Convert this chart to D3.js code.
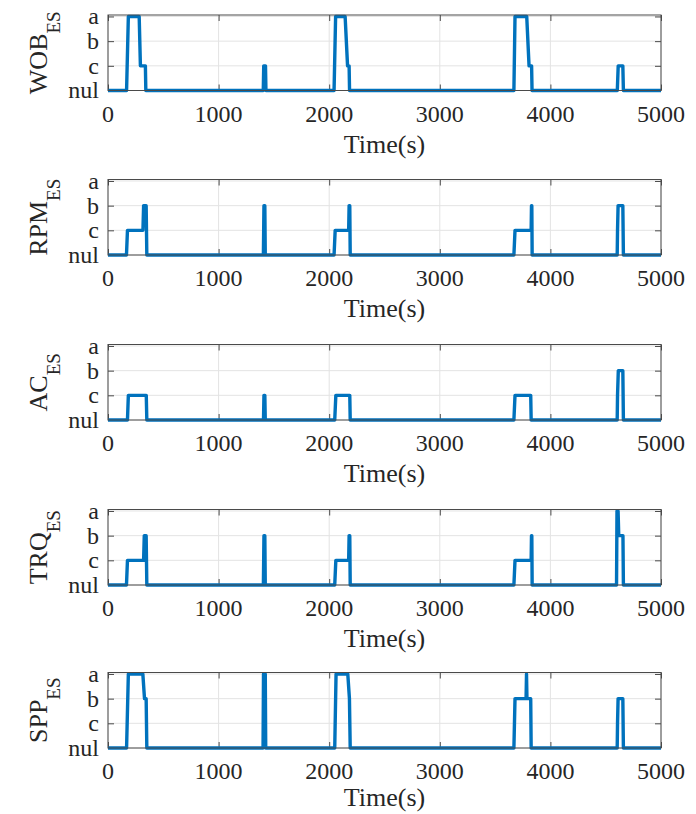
<!DOCTYPE html>
<html><head><meta charset="utf-8">
<script src="https://cdn.jsdelivr.net/npm/d3@7"></script>
<style>body{margin:0;background:#fff;overflow:hidden}</style>
</head><body>
<svg id="chart" width="696" height="814"></svg>
<script>
// ---- data ----
const levelLabels = ["nul", "c", "b", "a"];          // level index 0..3
const xTickValues = [0, 1000, 2000, 3000, 4000, 5000];
const signalNames = ["WOB", "RPM", "AC", "TRQ", "SPP"];

const wobTime  = [0,168,184,282,293,338,342,1404,1408,1424,1428,2044,2058,2144,2166,2180,2184,3670,3680,3786,3807,3830,3834,4605,4613,4655,4660,5000];
const wobLevel = [0,0,3,3,1,1,0,0,1,1,0,0,3,3,1,1,0,0,3,3,1,1,0,0,1,1,0,0];

const rpmTime  = [0,167,176,316,322,345,351,1405,1410,1418,1422,2044,2054,2176,2180,2186,2190,3670,3680,3826,3829,3832,3835,4604,4607,4612,4655,4660,5000];
const rpmLevel = [0,0,1,1,2,2,0,0,2,2,0,0,1,1,2,2,0,0,1,1,2,2,0,0,1,2,2,0,0];

const acTime   = [0,176,184,346,351,1406,1410,1418,1422,2050,2060,2186,2190,3670,3680,3822,3826,4604,4607,4614,4655,4660,5000];
const acLevel  = [0,0,1,1,0,0,1,1,0,0,1,1,0,0,1,1,0,0,1,2,2,0,0];

const trqTime  = [0,167,176,322,328,345,351,1405,1410,1418,1422,2050,2060,2176,2180,2186,2190,3670,3680,3826,3829,3832,3835,4598,4602,4612,4618,4656,4660,5000];
const trqLevel = [0,0,1,1,2,2,0,0,2,2,0,0,1,1,2,2,0,0,1,1,2,2,0,0,3,3,2,2,0,0];

const sppTime  = [0,168,184,315,330,345,351,1402,1406,1422,1426,2050,2062,2168,2183,2190,3670,3680,3780,3784,3788,3822,3826,4604,4607,4612,4655,4660,5000];
const sppLevel = [0,0,3,3,2,2,0,0,3,3,0,0,3,3,2,0,0,2,2,3,2,2,0,0,1,2,2,0,0];

const seriesTimes  = [wobTime, rpmTime, acTime, trqTime, sppTime];
const seriesLevels = [wobLevel, rpmLevel, acLevel, trqLevel, sppLevel];

// ---- layout ----
const svg = d3.select("#chart");
const left = 108, right = 661, panelH = 75.5;
const panelTops = [15, 179.5, 344.5, 509.5, 672.5];
const font = "'Liberation Serif','Times New Roman',serif";
const axisColor = "#4a4a4a", gridColor = "#e3e3e3", lineColor = "#0072BD";
const tickLen = 6;

const x = d3.scaleLinear().domain([0, 5000]).range([left, right]);

signalNames.forEach((name, i) => {
  const top = panelTops[i], bottom = top + panelH;
  const y = d3.scaleLinear().domain([0, 3.06]).range([bottom, top]);
  const g = svg.append("g");

  // grid
  g.append("g").selectAll("line").data(xTickValues).join("line")
    .attr("x1", d => x(d)).attr("x2", d => x(d))
    .attr("y1", top).attr("y2", bottom)
    .attr("stroke", gridColor).attr("stroke-width", 1);
  g.append("g").selectAll("line").data(d3.range(levelLabels.length)).join("line")
    .attr("x1", left).attr("x2", right)
    .attr("y1", d => y(d)).attr("y2", d => y(d))
    .attr("stroke", gridColor).attr("stroke-width", 1);

  // axes via d3 axis (inward ticks)
  const yLeft = d3.axisLeft(y).tickValues(d3.range(4)).tickSize(-tickLen).tickFormat("");
  const yRight = d3.axisRight(y).tickValues(d3.range(4)).tickSize(-tickLen).tickFormat("");
  const xTop = d3.axisTop(x).tickValues(xTickValues).tickSize(-tickLen).tickFormat("");
  const xBot = d3.axisBottom(x).tickValues(xTickValues).tickSize(-tickLen).tickFormat("");

  [[xBot, 0, bottom], [xTop, 0, top], [yLeft, left, 0], [yRight, right, 0]].forEach(([ax, tx, ty]) => {
    const a = g.append("g").attr("transform", `translate(${tx},${ty})`).call(ax);
    a.select(".domain").remove();
    a.selectAll("line").attr("stroke", axisColor).attr("stroke-width", 1);
  });

  // data line
  const pts = seriesTimes[i].map((t, k) => [t, seriesLevels[i][k]]);
  g.append("path").datum(pts)
    .attr("d", d3.line().x(d => x(d[0])).y(d => y(d[1])))
    .attr("fill", "none").attr("stroke", lineColor).attr("stroke-width", 3.4)
    .attr("stroke-linejoin", "round");

  // box
  g.append("rect").attr("x", left).attr("y", top).attr("width", right - left).attr("height", panelH)
    .attr("fill", "none").attr("stroke", axisColor).attr("stroke-width", 1);

  // y tick labels
  g.append("g").selectAll("text").data(levelLabels).join("text")
    .attr("x", 99).attr("y", (d, k) => y(k)).attr("dy", "0.33em")
    .attr("text-anchor", "end").attr("font-family", font).attr("font-size", 24)
    .attr("fill", "#262626").text(d => d);

  // x tick labels
  g.append("g").selectAll("text").data(xTickValues).join("text")
    .attr("x", d => x(d)).attr("y", bottom + 31)
    .attr("text-anchor", "middle").attr("font-family", font).attr("font-size", 24)
    .attr("fill", "#262626").text(d => d);

  // x label (last one nudged up so it stays inside the page)
  const labelY = Math.min(bottom + 62, 806);
  g.append("text").attr("x", (left + right) / 2).attr("y", labelY)
    .attr("text-anchor", "middle").attr("font-family", font).attr("font-size", 26)
    .attr("fill", "#262626").text("Time(s)");

  // y label with subscript
  const cy = (top + bottom) / 2;
  const yl = g.append("text").attr("transform", `translate(47,${cy}) rotate(-90)`)
    .attr("text-anchor", "middle").attr("font-family", font).attr("fill", "#262626");
  yl.append("tspan").attr("font-size", 26).text(name);
  yl.append("tspan").attr("font-size", 19).attr("dy", 13).text("ES");
});
</script>
</body></html>
